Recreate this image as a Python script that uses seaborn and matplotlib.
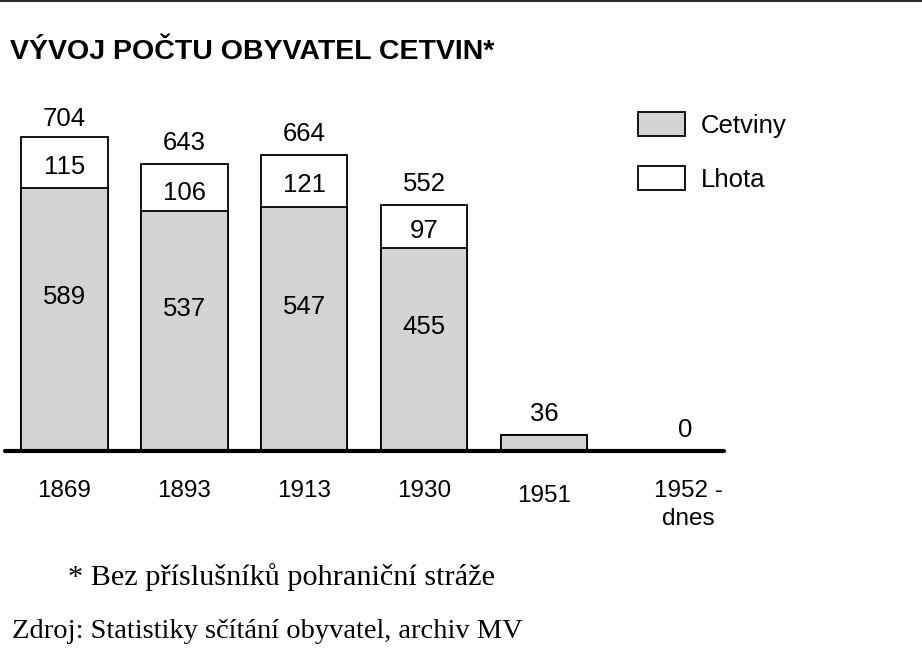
import matplotlib
matplotlib.use("Agg")
import matplotlib.pyplot as plt
import matplotlib.transforms as mtransforms
from matplotlib.patches import Patch
import seaborn as sns
import pandas as pd

# ---- data ----
years = ["1869", "1893", "1913", "1930", "1951", "1952 -\ndnes"]
cetviny = [589, 537, 547, 455, 36, 0]
lhota = [115, 106, 121, 97, 0, 0]
totals = [704, 643, 664, 552, 36, 0]

title = "VÝVOJ POČTU OBYVATEL CETVIN*"
note = "* Bez příslušníků pohraniční stráže"
source = "Zdroj: Statistiky sčítání obyvatel, archiv MV"

sns.set_theme(style="white")
plt.rcParams["font.family"] = ["Liberation Sans", "DejaVu Sans"]
plt.rcParams["text.color"] = "black"
plt.rcParams["xtick.color"] = "black"
plt.rcParams["xtick.labelcolor"] = "black"

W, H = 922, 655
fig = plt.figure(figsize=(W / 100, H / 100), dpi=100)
fig.patch.set_facecolor("white")

# axes: x from 4.5px to 724px, baseline at y=451px, ylim 0..800 (0.446 px/unit)
ax = fig.add_axes([4.5 / W, (H - 451) / H, (724 - 4.5) / W, 357 / H])

df = pd.DataFrame({"year": years, "cetviny": cetviny, "lhota": lhota, "total": totals})

sns.barplot(data=df, x="year", y="total", order=years, color="white",
            edgecolor="black", linewidth=1.3, width=0.72, ax=ax, saturation=1)
sns.barplot(data=df, x="year", y="cetviny", order=years, color="#d3d3d3",
            edgecolor="black", linewidth=1.3, width=0.72, ax=ax, saturation=1)

ax.set_xlim(-0.5, 5.5)
ax.set_ylim(0, 800)
ax.axhline(0, color="black", lw=3.0, zorder=5, clip_on=False)
for s in ax.spines.values():
    s.set_visible(False)
ax.set_yticks([])
ax.set_xlabel("")
ax.set_ylabel("")
ax.tick_params(axis="x", length=0, pad=21, labelsize=17.5, labelcolor="black")
ax.set_xticks(range(len(years)))
ax.set_xticklabels(years, linespacing=1.35)
labels = ax.get_xticklabels()
labels[4].set_transform(labels[4].get_transform() +
                        mtransforms.ScaledTranslation(0, -5 / 100, fig.dpi_scale_trans))
labels[5].set_transform(labels[5].get_transform() +
                        mtransforms.ScaledTranslation(24 / 100, 0, fig.dpi_scale_trans))

fs = 18.5
for i, (c, l, t) in enumerate(zip(cetviny, lhota, totals)):
    xoff = 15 if i == 5 else 0
    yoff = 15 if i != 0 else 13
    ax.annotate(str(t), (i, t), xytext=(xoff, yoff), textcoords="offset points",
                ha="center", va="center", fontsize=fs, color="black")
    if l > 0:
        ax.annotate(str(l), (i, c + l / 2), xytext=(0, -3.5), textcoords="offset points",
                    ha="center", va="center", fontsize=fs, color="black")
        ax.annotate(str(c), (i, c / 2), xytext=(0, 16), textcoords="offset points",
                    ha="center", va="center", fontsize=fs, color="black")

handles = [Patch(facecolor="#d3d3d3", edgecolor="black", linewidth=1.3, label="Cetviny"),
           Patch(facecolor="white", edgecolor="black", linewidth=1.3, label="Lhota")]
fig.legend(handles=handles, loc="upper left", bbox_to_anchor=(628 / W, 1 - 102 / H),
           frameon=False, fontsize=fs, handlelength=1.8, handleheight=1.05,
           labelspacing=1.1, handletextpad=0.62, borderaxespad=0, labelcolor="black")

fig.text(10 / W, 1 - 52 / H, title, fontsize=20.5, fontweight="bold", va="center", ha="left",
         color="black")
fig.text(68 / W, 1 - 577 / H, note, fontsize=21.8, family=["Liberation Serif", "DejaVu Serif"],
         va="center", ha="left", color="black")
fig.text(12 / W, 1 - 631 / H, source, fontsize=20.5, family=["Liberation Serif", "DejaVu Serif"],
         va="center", ha="left", color="black")

# top border line
fig.add_artist(plt.Line2D([0, 1], [1 - 1 / H, 1 - 1 / H], color="black", lw=1.2,
                          transform=fig.transFigure))

fig.savefig("out.png", dpi=100, facecolor="white")
